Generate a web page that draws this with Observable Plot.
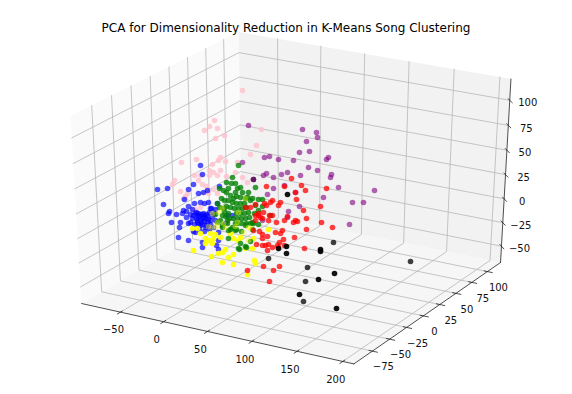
<!DOCTYPE html>
<html>
<head>
<meta charset="utf-8">
<script src="https://cdn.jsdelivr.net/npm/d3@7"></script>
<script src="https://cdn.jsdelivr.net/npm/@observablehq/plot@0.6"></script>
<style>html,body{margin:0;padding:0;background:#fff}svg{display:block}</style>
</head>
<body>
<div id="chart"></div>
<script>
const titleText = "PCA for Dimensionality Reduction in K-Means Song Clustering";
const xTicks = [-50, 0, 50, 100, 150, 200];
const yTicks = [-75, -50, -25, 0, 25, 50, 75, 100];
const zTicks = [-50, -25, 0, 25, 50, 75, 100];
const xLim = [-95.6, 212], yLim = [-101.3, 121.3], zLim = [-67.5, 120.9];

// Points, in the plane of the projected view
const pink = [[242,90],[214,120],[209,126],[217,128],[204,130],[224,135],[215,138],[261,129],[256,145],[250,154],[181,162],[196,159],[212,164],[220,157],[218,160],[225,161],[209,170],[220,170],[213,172],[194,175],[200,175],[209,175],[217,175],[226,176],[235,172],[237,162],[174,180],[172,184],[198,180],[202,184],[206,186],[180,191],[187,193],[185,196],[183,198],[213,189],[208,193],[217,193],[247,182],[242,177],[200,207],[195,209]];
const blackFar = [[253,179],[333,242],[307,267],[305,281],[303,301],[410,261],[268,258]];
const purple = [[248,125],[302,129],[306,141],[299,152],[309,151],[264,157],[269,156],[278,159],[242,162],[308,167],[263,175],[266,173],[273,177],[281,174],[287,172],[300,175],[253,179],[273,188],[267,194],[284,185],[295,192],[316,132],[317,137],[293,160],[326,159],[328,157],[317,170],[331,174],[330,177],[338,187],[323,197],[299,206],[374,190],[352,202],[363,202],[349,224],[288,211],[287,217],[262,220]];
const blue = [[200,165],[157,189],[167,188],[163,204],[193,184],[202,174],[198,193],[188,189],[203,192],[207,190],[219,186],[183,210],[200,202],[204,203],[208,202],[217,203],[188,206],[194,203],[184,199],[211,208],[169,211],[168,213],[171,222],[176,214],[182,213],[178,237],[188,240],[193,231],[202,242],[202,247],[218,249],[218,240],[180,222],[193,215],[188,223],[197,220],[195,232],[210,208],[215,209],[203,213],[198,213],[202,218],[207,222],[210,220],[213,227],[207,216],[200,225],[205,227],[218,232],[179,227],[216,245],[195,213],[198,216],[201,214],[203,217],[206,214],[196,218],[200,220],[204,221],[208,219],[192,218],[190,222],[194,224],[198,224],[202,224],[206,225],[210,224],[196,212],[212,216],[215,220],[190,214],[186,217],[199,229],[204,231],[209,229],[209,212],[214,213],[192,209],[186,211],[199,215],[204,215],[201,222],[205,218],[197,222],[225,223],[227,215],[232,215]];
const green = [[238,165],[232,177],[226,182],[231,183],[235,183],[219,188],[255,187],[248,192],[245,198],[258,199],[252,198],[262,199],[237,188],[223,190],[228,188],[235,192],[242,192],[240,187],[217,203],[223,208],[228,213],[222,215],[227,220],[232,227],[222,227],[217,222],[226,192],[230,195],[233,198],[236,196],[240,197],[228,200],[232,202],[236,203],[240,203],[244,203],[226,206],[230,207],[234,208],[238,208],[242,208],[246,207],[224,211],[236,213],[240,213],[244,213],[248,212],[225,216],[229,218],[233,218],[237,218],[241,218],[245,218],[249,217],[227,223],[237,223],[241,223],[246,223],[252,222],[254,213],[258,210],[239,249],[245,246],[250,241],[253,223],[270,215],[250,223],[235,223],[221,198],[224,200],[219,207],[215,214],[220,220],[230,229],[236,229],[241,231],[252,229],[258,224],[228,238],[240,243],[238,248],[246,247],[228,230],[235,230],[222,225],[245,225],[255,205],[250,200],[262,206],[247,197]];
const yellowFar = [[212,227],[223,223],[217,222],[248,227],[245,198],[212,213],[216,226],[218,212],[222,208],[238,212],[208,226],[235,226],[225,227],[237,222],[250,228],[243,232],[248,240]];
const yellowNear = [[193,250],[211,256],[222,262],[233,264],[228,257],[233,254],[218,253],[222,252],[254,260],[255,263],[247,274],[252,248],[245,248],[200,233],[205,238],[205,243],[208,240],[213,238],[220,237],[230,233],[233,238],[238,240],[240,237],[192,228],[197,228],[210,233],[253,238],[268,229],[225,249],[212,243],[215,234]];
const red = [[266,186],[291,178],[284,186],[301,185],[295,192],[305,190],[296,199],[280,202],[272,200],[270,202],[266,205],[264,203],[255,204],[278,205],[326,188],[320,206],[303,210],[306,218],[297,221],[295,220],[293,222],[321,222],[332,227],[306,229],[294,237],[304,248],[272,215],[269,215],[276,222],[284,220],[287,216],[275,232],[280,233],[282,230],[283,239],[262,234],[267,236],[262,238],[259,231],[256,244],[262,245],[268,244],[272,247],[277,245],[279,242],[284,245],[267,250],[278,247],[263,266],[273,270],[279,266],[269,281],[247,270],[258,213],[260,217],[255,215],[263,212],[245,207],[250,207],[258,215],[255,220],[262,218],[268,220],[253,230],[265,245]];
const blackNear = [[287,194],[320,249],[320,251],[334,273],[318,279],[299,294],[336,308],[286,246],[278,248],[286,253]];

// Camera of the 3D view: elevation 30, azimuth -60, distance 10
const rad = Math.PI / 180, el = 30 * rad, az = -60 * rad, dist = 10;
const nv = [Math.cos(el) * Math.cos(az), Math.cos(el) * Math.sin(az), Math.sin(el)];
const uv = [-Math.sin(az), Math.cos(az), 0];
const vv = [nv[1] * uv[2] - nv[2] * uv[1], nv[2] * uv[0] - nv[0] * uv[2], nv[0] * uv[1] - nv[1] * uv[0]];
const dot3 = (a, b) => a[0] * b[0] + a[1] * b[1] + a[2] * b[2];
const view = {sx: 3143, sy: 2140, ox: 293.8, oy: 191.8};
function proj(x, y, z, id) {
  const p = [(x - xLim[0]) / (xLim[1] - xLim[0]) - .5, (y - yLim[0]) / (yLim[1] - yLim[0]) - .5, (z - zLim[0]) / (zLim[1] - zLim[0]) - .5];
  const w = dist - dot3(p, nv);
  return {px: view.ox + view.sx * dot3(p, uv) / w, py: view.oy - view.sy * dot3(p, vv) / w, id};
}
const [x0, x1] = xLim, [y0, y1] = yLim, [z0, z1] = zLim;
const box = (pts, id) => pts.map(p => proj(p[0], p[1], p[2], id));
const paneLeft = box([[x0,y0,z0],[x0,y1,z0],[x0,y1,z1],[x0,y0,z1]], "l");
const paneBack = box([[x0,y1,z0],[x1,y1,z0],[x1,y1,z1],[x0,y1,z1]], "b");
const paneFloor = box([[x0,y0,z0],[x1,y0,z0],[x1,y1,z0],[x0,y1,z0]], "f");
const grid = [
  ...xTicks.flatMap(t => box([[t,y0,z0],[t,y1,z0],[t,y1,z1]], "x" + t)),
  ...yTicks.flatMap(t => box([[x1,t,z0],[x0,t,z0],[x0,t,z1]], "y" + t)),
  ...zTicks.flatMap(t => box([[x0,y0,t],[x0,y1,t],[x1,y1,t]], "z" + t))
];
const axes = [
  ...box([[x0,y0,z0],[x1,y0,z0]], "ax"),
  ...box([[x1,y0,z0],[x1,y1,z0]], "ay"),
  ...box([[x1,y1,z0],[x1,y1,z1]], "az")
];
const dy = (y1 - y0), dx = (x1 - x0);
const ticks = [
  ...xTicks.flatMap(t => box([[t,y0 - .018 * dy,z0],[t,y0 + .012 * dy,z0]], "tx" + t)),
  ...yTicks.flatMap(t => box([[x1 + .018 * dx,t,z0],[x1 - .012 * dx,t,z0]], "ty" + t)),
  ...zTicks.flatMap(t => box([[x1 + .018 * dx,y1 - .018 * dy,t],[x1 - .012 * dx,y1 + .012 * dy,t]], "tz" + t))
];
const label = t => String(t).replace("-", "\u2212");
const xLab = xTicks.map(t => ({...proj(t, y0, z0), t: label(t)}));
const yLab = yTicks.map(t => ({...proj(x1, t, z0), t: label(t)}));
const zLab = zTicks.map(t => ({...proj(x1, y1, t), t: label(t)}));

const scatter = (data, fill, opacity) => Plot.dot(data, {x: d => d[0], y: d => d[1], r: 2.8, fill, fillOpacity: opacity, stroke: "none"});
const tickText = (data, dx, dy) => Plot.text(data, {x: "px", y: "py", text: "t", dx, dy, fontSize: 10, fill: "#111", textAnchor: "middle"});
const polygon = (data, fill) => Plot.line(data, {x: "px", y: "py", fill, stroke: "none", curve: "linear-closed"});

const chart = Plot.plot({
  width: 572, height: 394,
  marginTop: 0, marginRight: 0, marginBottom: 0, marginLeft: 0,
  style: {fontFamily: "'DejaVu Sans'", background: "#fff", overflow: "visible"},
  x: {domain: [0, 572], range: [0, 572], axis: null},
  y: {domain: [0, 394], range: [0, 394], axis: null},
  marks: [
    polygon(paneLeft, "#fafafa"),
    polygon(paneBack, "#f2f2f2"),
    polygon(paneFloor, "#f6f6f6"),
    Plot.line(grid, {x: "px", y: "py", z: "id", stroke: "#b8b8b8", strokeWidth: 0.8}),
    Plot.line(axes, {x: "px", y: "py", z: "id", stroke: "#222", strokeWidth: 0.8}),
    Plot.line(ticks, {x: "px", y: "py", z: "id", stroke: "#222", strokeWidth: 0.8}),
    scatter(pink, "pink", 0.8),
    scatter(blackFar, "black", 0.75),
    scatter(purple, "purple", 0.6),
    scatter(blue, "blue", 0.68),
    scatter(yellowNear, "yellow", 0.92),
    scatter(green, "green", 0.78),
    scatter(yellowFar, "yellow", 0.4),
    scatter(red, "red", 0.75),
    scatter(blackNear, "black", 0.92),
    tickText(xLab, -7, 18),
    tickText(yLab, 11, 16),
    tickText(zLab, 18, 3),
    Plot.text([titleText], {x: () => 285.5, y: () => 28, text: d => d, fontSize: 12, fill: "#000", textAnchor: "middle"})
  ]
});
document.getElementById("chart").append(chart);
</script>
</body>
</html>
